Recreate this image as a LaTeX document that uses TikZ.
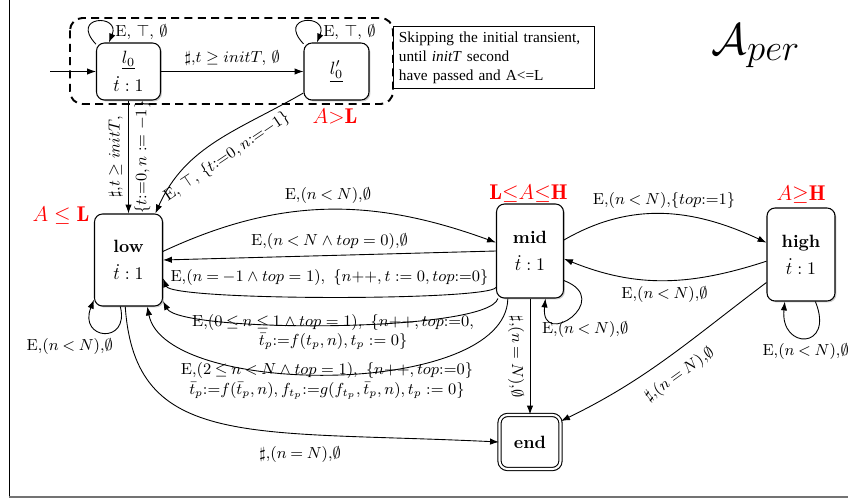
\documentclass[tikz,border=0pt]{standalone}
\usepackage{fontspec}
\newfontfamily\notefont{Liberation Serif}
\usetikzlibrary{arrows.meta,shadows}
\newcommand{\cma}{\mathord{,}}
\begin{document}
\begin{tikzpicture}[x=0.5625pt,y=0.5625pt,
  >={Latex[length=5pt,width=3.6pt]},
  loc/.style={draw, rounded corners=4.5pt, fill=white, line width=0.6pt, align=center,
    drop shadow={shadow xshift=0.8pt, shadow yshift=-0.8pt, opacity=0.4}},
  lbl/.style={font=\small, inner sep=3pt},
  cond/.style={text=red, font=\large},
  tr/.style={->, line width=0.5pt}]
\useasboundingbox (0,0) rectangle (848,-500);
% frame
\draw[line width=0.5pt] (9,0) -- (9,-497);
\draw[line width=1pt, black!55] (9,-497) -- (848,-497);
% dashed group
\draw[line width=1.1pt, dash pattern=on 4.5pt off 3pt, rounded corners=7pt] (70,-18) rectangle (393,-104);
% note
\node[draw, line width=0.6pt, anchor=north west, inner xsep=3pt, inner ysep=2pt, text width=107pt,
  minimum height=62*0.5625pt, font=\notefont\fontsize{8.6}{10.7}\selectfont, align=left] (note) at (393,-26)
  {Skipping the initial transient,\\ until \textit{initT} second\\ have passed and A<=L};
% title
\node (aper) at (756,-46) {\Huge $\mathcal{A}_{per}$};
% locations
\node[loc, minimum width=64*0.5625pt, minimum height=57*0.5625pt] (l0) at (128.5,-71.5)
  {$\underline{l_0}$\\[3pt]$\dot{t}:1$};
\node[loc, minimum width=65*0.5625pt, minimum height=57*0.5625pt] (lp) at (336.5,-71.5)
  {$\underline{l'_0}$};
\node[loc, minimum width=68*0.5625pt, minimum height=92*0.5625pt] (low) at (128.5,-260)
  {\textbf{low}\\[3pt]$\dot{t}:1$};
\node[loc, minimum width=67*0.5625pt, minimum height=94*0.5625pt] (mid) at (530,-251)
  {\textbf{mid}\\[3pt]$\dot{t}:1$};
\node[loc, minimum width=68*0.5625pt, minimum height=93*0.5625pt] (high) at (801,-254.5)
  {\textbf{high}\\[3pt]$\dot{t}:1$};
\node[loc, double, double distance=1.2pt, minimum width=61*0.5625pt, minimum height=54*0.5625pt] (end) at (530,-442)
  {\textbf{end}};
% conditions
\node[cond] (clow) at (61,-216) {$A\leq\mathbf{L}$};
\node[cond] (clp) at (335,-116) {$A{>}\mathbf{L}$};
\node[cond] (cmid) at (528.5,-194) {$\mathbf{L}{\leq}A{\leq}\mathbf{H}$};
\node[cond] (chigh) at (801,-195) {$A{\geq}\mathbf{H}$};
% initial
\coordinate (init) at (50,-71.5);
\draw[tr] (init) -- (l0);
% loops on l0 and l0'
\draw[tr] (l0.140) .. controls +(-27,28.6) and +(12,29) .. (l0.124)
  node[lbl, pos=.8, anchor=west, yshift=-2pt] {E, $\top$, $\emptyset$};
\draw[tr] (lp.140) .. controls +(-27,28.6) and +(12,29) .. (lp.124)
  node[lbl, pos=.8, anchor=west, yshift=-2pt] {E, $\top$, $\emptyset$};
% l0 -> l0'
\draw[tr] (l0) -- node[lbl, above] {$\sharp\cma t\geq initT,\,\emptyset$} (lp);
% l0 -> low
\draw[tr] (l0.south) -- node[lbl, rotate=90, above] {$\sharp\cma t\geq initT,$}
  node[lbl, rotate=90, below] {$\{t{:=}0, n:=-1\}$} (low.north);
% l0' -> low
\draw[tr] (lp.213) to[out=210, in=66]
  node[lbl, sloped, below=2.5pt] {E, $\top$, $\{t{:=}0,n{:=}{-1}\}$} (low.60);
% low -> mid
\draw[tr] (low.14) to[out=25, in=160]
  node[lbl, above] {$\mathrm{E}\cma(n\mathbin{<}N)\cma\emptyset$} (mid.166);
% mid -> low
\draw[tr] (mid.west) -- node[lbl, above] {$\mathrm{E}\cma(n\mathbin{<}N\wedge top=0)\cma\emptyset$} (low.east);
\draw[tr] (mid.227) .. controls (487,-301) and (172,-301) .. (low.-28)
  node[lbl, pos=.5, above=3pt] {$\mathrm{E}\cma(n\mathbin{=}{-1}\wedge top=1),\ \{n{+}{+}, t:=0, top{:=}0\}$};
\draw[tr] (mid.236) .. controls (488,-333) and (180,-333) .. (low.-50)
  node[lbl, pos=.5, yshift=-4pt, align=center]
  {$\mathrm{E}\cma(0\mathbin{\leq}n\mathbin{\leq}1\wedge top=1),\ \{n{+}{+}, top{:=}0,$\\
   $\bar{t}_p{:=}f(t_p,n), t_p:=0\}$};
\draw[tr] (mid.245) .. controls (506,-398) and (165,-398) .. (low.-68)
  node[lbl, pos=.5, yshift=-4pt, xshift=-3.7pt, align=center]
  {$\mathrm{E}\cma(2\mathbin{\leq}n\mathbin{<}N\wedge top=1),\ \{n{+}{+}, top{:=}0\}$\\
   $\bar{t}_p{:=}f(\bar{t}_p,n), f_{t_p}{:=}g(f_{t_p},\bar{t}_p,n), t_p:=0\}$};
% low loop
\draw[tr] (low.-100) .. controls (130,-345) and (78,-340) .. (low.229)
  node[lbl, pos=.5, below, xshift=-19.7pt] {$\mathrm{E}\cma(n\mathbin{<}N)\cma\emptyset$};
% low -> end
\draw[tr] (low.-94) .. controls (135,-450) and (250,-430) .. (end.west)
  node[lbl, pos=.68, below=4pt] {$\sharp\cma(n\mathbin{=}N)\cma\emptyset$};
% mid <-> high
\draw[tr] (mid.18) to[out=30, in=155]
  node[lbl, above] {$\mathrm{E}\cma(n\mathbin{<}N)\cma\{top{:=}1\}$} (high.161);
\draw[tr] (high.191) to[out=198, in=-22]
  node[lbl, below] {$\mathrm{E}\cma(n\mathbin{<}N)\cma\emptyset$} (mid.-13);
% mid loop
\draw[tr] (mid.-41) .. controls (615,-300) and (540,-350) .. (mid.-72)
  node[lbl, pos=.5, below, xshift=7.5pt] {$\mathrm{E}\cma(n\mathbin{<}N)\cma\emptyset$};
% high loop
\draw[tr] (high.-73) .. controls (835,-350) and (780,-350) .. (high.-109)
  node[lbl, pos=.5, below] {$\mathrm{E}\cma(n\mathbin{<}N)\cma\emptyset$};
% high -> end
\draw[tr] (high.219) to[out=217, in=26]
  node[lbl, sloped, below=4pt] {$\sharp\cma(n\mathbin{=}N)\cma\emptyset$} (end.34);
% mid -> end
\draw[tr] (mid.south) -- node[lbl, rotate=-90, below] {$\sharp\cma(n\mathbin{=}N)\cma\emptyset$} (end.north);
\end{tikzpicture}
\end{document}
